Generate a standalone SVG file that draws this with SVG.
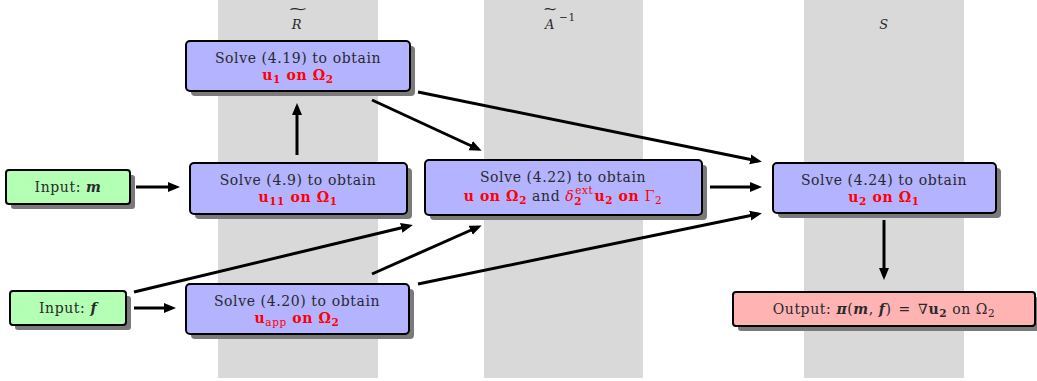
<svg xmlns="http://www.w3.org/2000/svg" width="1037" height="381" viewBox="0 0 1037 381">
<defs>
<marker id="arr" markerUnits="userSpaceOnUse" markerWidth="12" markerHeight="12" viewBox="0 0 12 12" refX="8" refY="6" orient="auto">
<path d="M0,1 L12,6 L0,11 z" fill="#000"/>
</marker>
</defs>
<style>
.col{fill:#d9d9d9}
.sh{fill:#7a7a7a}
.blue{fill:#b3b3ff;stroke:#000;stroke-width:2}
.green{fill:#b3ffb3;stroke:#000;stroke-width:2}
.red{fill:#ffb3b3;stroke:#000;stroke-width:2}
text{font-family:"DejaVu Serif","Liberation Serif",serif;font-size:14px;letter-spacing:0.6px;fill:#2a2a2a;text-anchor:middle}
.r{fill:#ff0000;font-weight:bold}
.rn{fill:#ff0000}
.b{font-weight:bold}
.i{font-style:italic}
.s{font-size:10.5px}
.lbl{font-style:italic;font-size:13px}
.tl{font-size:11px;letter-spacing:0}
.conn line{stroke:#000;stroke-width:3;marker-end:url(#arr)}
</style>
<rect width="1037" height="381" fill="#fff"/>
<g id="columns">
<rect class="col" x="218" y="0" width="160" height="378"/>
<rect class="col" x="484" y="0" width="159" height="378"/>
<rect class="col" x="804" y="0" width="160" height="378"/>
<text class="tl" transform="translate(298,13) scale(2.2,1.1)" x="0" y="0">~</text>
<text class="lbl" x="297" y="29">R</text>
<text class="tl" transform="translate(550,13) scale(1.6,1.1)" x="0" y="0">~</text>
<text class="lbl" style="text-anchor:start" x="545" y="29">A<tspan dx="4" dy="-8" style="font-style:normal;font-size:10.5px">−1</tspan></text>
<text class="lbl" x="884" y="29">S</text>
</g>
<g id="n419">
<rect class="sh" x="191" y="46" width="224" height="50" rx="4"/>
<rect class="blue" x="186" y="41" width="224" height="50" rx="4"/>
<text x="298" y="63">Solve (4.19) to obtain</text>
<text class="r" x="298" y="80">u<tspan class="s" dy="3">1</tspan><tspan dy="-3"> on Ω</tspan><tspan class="s" dy="3">2</tspan></text>
</g>
<g id="inm">
<rect class="sh" x="11" y="175" width="124" height="34" rx="3"/>
<rect class="green" x="6" y="170" width="124" height="34" rx="3"/>
<text x="68" y="192">Input: <tspan class="b i">m</tspan></text>
</g>
<g id="n49">
<rect class="sh" x="195" y="168" width="217" height="51" rx="4"/>
<rect class="blue" x="190" y="163" width="217" height="51" rx="4"/>
<text x="298" y="185">Solve (4.9) to obtain</text>
<text class="r" x="298" y="202">u<tspan class="s" dy="3">11</tspan><tspan dy="-3"> on Ω</tspan><tspan class="s" dy="3">1</tspan></text>
</g>
<g id="n422">
<rect class="sh" x="430" y="165" width="277" height="55" rx="4"/>
<rect class="blue" x="425" y="160" width="277" height="55" rx="4"/>
<text x="563" y="182">Solve (4.22) to obtain</text>
<text x="563" y="201"><tspan class="r">u on Ω</tspan><tspan class="r s" dy="3">2</tspan><tspan dy="-3"> and </tspan><tspan class="rn i">δ</tspan><tspan class="r s" dy="4">2</tspan><tspan class="rn s" dx="-7" dy="-11">ext</tspan><tspan class="r" dx="1" dy="7">u</tspan><tspan class="r s" dy="3">2</tspan><tspan class="r" dy="-3"> on </tspan><tspan class="rn">Γ</tspan><tspan class="rn s" dy="3">2</tspan></text>
</g>
<g id="n424">
<rect class="sh" x="778" y="168" width="223" height="50" rx="4"/>
<rect class="blue" x="773" y="163" width="223" height="50" rx="4"/>
<text x="884" y="185">Solve (4.24) to obtain</text>
<text class="r" x="884" y="202">u<tspan class="s" dy="3">2</tspan><tspan dy="-3"> on Ω</tspan><tspan class="s" dy="3">1</tspan></text>
</g>
<g id="inf">
<rect class="sh" x="15" y="296" width="116" height="34" rx="3"/>
<rect class="green" x="10" y="291" width="116" height="34" rx="3"/>
<text x="68" y="313">Input: <tspan class="b i">f</tspan></text>
</g>
<g id="n420">
<rect class="sh" x="191" y="289" width="223" height="50" rx="4"/>
<rect class="blue" x="186" y="284" width="223" height="50" rx="4"/>
<text x="297" y="306">Solve (4.20) to obtain</text>
<text x="297" y="323"><tspan class="r">u</tspan><tspan class="rn s" dy="3">app</tspan><tspan class="r" dy="-3"> on Ω</tspan><tspan class="r s" dy="3">2</tspan></text>
</g>
<g id="out">
<rect class="sh" x="738" y="297" width="302" height="34" rx="3"/>
<rect class="red" x="733" y="292" width="302" height="34" rx="3"/>
<text x="884" y="314">Output: <tspan class="b i">π</tspan>(<tspan class="b i">m</tspan>, <tspan class="b i">f</tspan>) <tspan dx="2">=</tspan> <tspan dx="2">∇</tspan><tspan class="b">u</tspan><tspan class="b s" dy="3">2</tspan><tspan dy="-3"> on Ω</tspan><tspan class="s" dy="3">2</tspan></text>
</g>
<g class="conn" id="connectors">
<line x1="136" y1="187" x2="176" y2="187"/>
<line x1="297" y1="155" x2="297" y2="107"/>
<line x1="372" y1="100" x2="478" y2="149"/>
<line x1="418" y1="92" x2="758" y2="161"/>
<line x1="710" y1="187" x2="758" y2="187"/>
<line x1="134" y1="308" x2="172" y2="308"/>
<line x1="134" y1="292" x2="409" y2="226"/>
<line x1="372" y1="274" x2="478" y2="227"/>
<line x1="418" y1="284" x2="758" y2="214"/>
<line x1="884" y1="220" x2="884" y2="276"/>
</g>
</svg>
